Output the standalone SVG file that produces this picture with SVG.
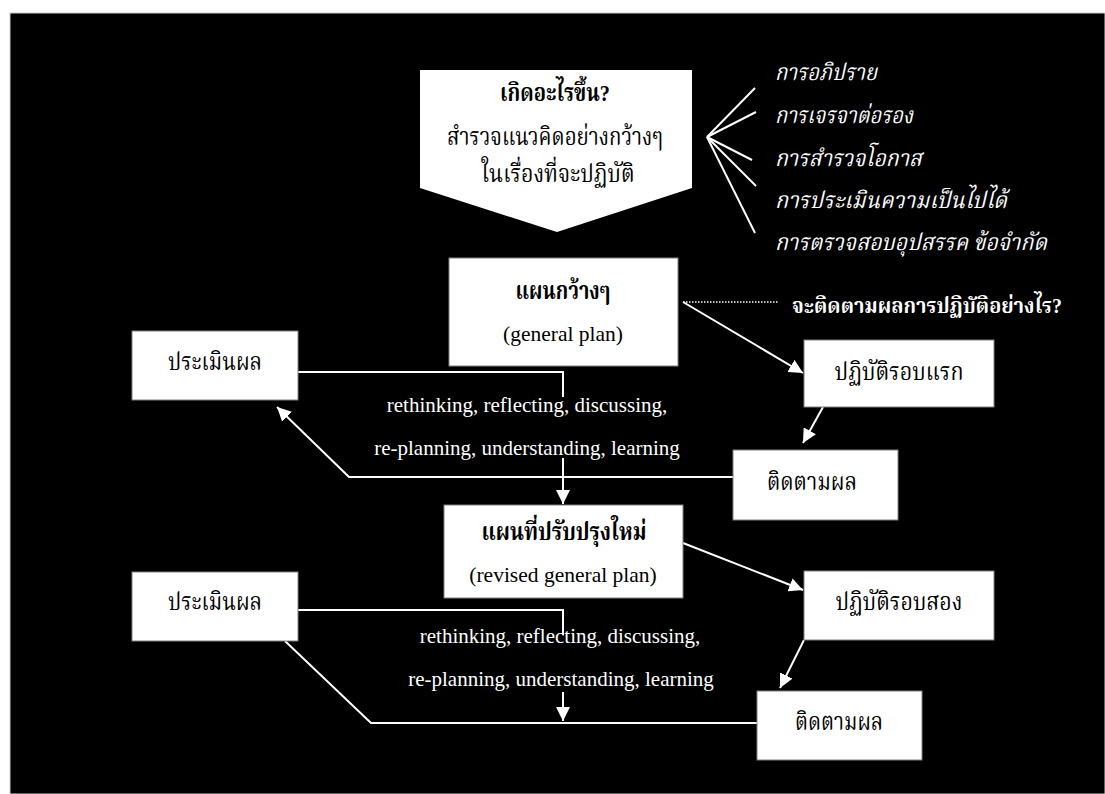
<svg xmlns="http://www.w3.org/2000/svg" width="1105" height="794" viewBox="0 0 1105 794">
<defs>
<marker id="ah" viewBox="0 0 10 10" refX="10" refY="5" markerWidth="14" markerHeight="14" markerUnits="userSpaceOnUse" orient="auto">
<path d="M0,0 L10,5 L0,10 z" fill="#fff"/>
</marker>
<style>
.box{fill:#fff;stroke:#808080;stroke-width:1}
.th{font-family:"Liberation Serif","Noto Serif Thai","Noto Sans Thai",serif;font-size:24px;fill:#000;text-anchor:middle}
.b{font-weight:bold}
.en{font-family:"Liberation Serif",serif;font-size:21.5px;text-anchor:middle}
.wen{font-family:"Liberation Serif",serif;font-size:21px;fill:#fff;text-anchor:middle}
.it{font-family:"Liberation Serif","Noto Serif Thai","Noto Sans Thai",serif;font-size:23px;fill:#fff;font-style:italic}
.q{font-family:"Liberation Serif","Noto Serif Thai","Noto Sans Thai",serif;font-size:22px;fill:#fff;font-weight:bold}
.ln{stroke:#fff;stroke-width:2;fill:none}
</style>
</defs>
<rect x="0" y="0" width="1105" height="794" fill="#fff"/>
<rect x="10" y="13" width="1095" height="781" fill="#000" stroke="#ccc" stroke-width="1"/>

<g id="connectors">
<polyline class="ln" points="707,137 755,88"/>
<polyline class="ln" points="707,137 756,112"/>
<polyline class="ln" points="707,137 752,160"/>
<polyline class="ln" points="707,137 756,186"/>
<polyline class="ln" points="707,137 755,233"/>
<line x1="683" y1="302" x2="778" y2="302" stroke="#fff" stroke-width="1.5" stroke-dasharray="1.5,1.5"/>
<line class="ln" x1="683" y1="302" x2="803" y2="373" marker-end="url(#ah)"/>
<line class="ln" x1="823" y1="407" x2="803" y2="443" marker-end="url(#ah)"/>
<polyline class="ln" points="298,372 563,372 563,397"/>
<line class="ln" x1="563" y1="458" x2="563" y2="504" marker-end="url(#ah)"/>
<polyline class="ln" points="733,477 349,477 277,407" marker-end="url(#ah)"/>
<line class="ln" x1="683" y1="543" x2="803" y2="590" marker-end="url(#ah)"/>
<line class="ln" x1="804" y1="640" x2="780" y2="688" marker-end="url(#ah)"/>
<polyline class="ln" points="298,610 563,610 563,635"/>
<line class="ln" x1="563" y1="692" x2="563" y2="721" marker-end="url(#ah)"/>
<polyline class="ln" points="757,723 371,723 285,641"/>
</g>

<g id="what-happened">
<polygon points="420,70 692,70 692,188 557,232 420,188" fill="#fff"/>
<text class="th b" x="555" y="101" textLength="110" lengthAdjust="spacingAndGlyphs">เกิดอะไรขึ้น?</text>
<text class="th" x="555" y="145" textLength="216" lengthAdjust="spacingAndGlyphs">สำรวจแนวคิดอย่างกว้างๆ</text>
<text class="th" x="558" y="182" textLength="153" lengthAdjust="spacingAndGlyphs">ในเรื่องที่จะปฏิบัติ</text>
</g>

<g id="activities">
<text class="it" x="775" y="80" textLength="102" lengthAdjust="spacingAndGlyphs">การอภิปราย</text>
<text class="it" x="775" y="123" textLength="138" lengthAdjust="spacingAndGlyphs">การเจรจาต่อรอง</text>
<text class="it" x="775" y="166" textLength="147" lengthAdjust="spacingAndGlyphs">การสำรวจโอกาส</text>
<text class="it" x="775" y="208" textLength="232" lengthAdjust="spacingAndGlyphs">การประเมินความเป็นไปได้</text>
<text class="it" x="775" y="250" textLength="272" lengthAdjust="spacingAndGlyphs">การตรวจสอบอุปสรรค ข้อจำกัด</text>
</g>

<g id="monitor-question">
<text class="q" x="792" y="313" textLength="270" lengthAdjust="spacingAndGlyphs">จะติดตามผลการปฏิบัติอย่างไร?</text>
</g>

<g id="general-plan">
<rect class="box" x="449" y="258" width="229" height="108"/>
<text class="th b" x="563" y="299" textLength="95" lengthAdjust="spacingAndGlyphs">แผนกว้างๆ</text>
<text class="en" x="563" y="341">(general plan)</text>
</g>

<g id="act1">
<rect class="box" x="804" y="340" width="190" height="67"/>
<text class="th" x="899" y="380" textLength="129" lengthAdjust="spacingAndGlyphs">ปฏิบัติรอบแรก</text>
</g>

<g id="monitor1">
<rect class="box" x="733" y="450" width="165" height="70"/>
<text class="th" x="812" y="490" textLength="90" lengthAdjust="spacingAndGlyphs">ติดตามผล</text>
</g>

<g id="evaluate1">
<rect class="box" x="132" y="331" width="166" height="69"/>
<text class="th" x="215" y="370" textLength="94" lengthAdjust="spacingAndGlyphs">ประเมินผล</text>
</g>

<g id="reflect1">
<text class="wen" x="527" y="412">rethinking, reflecting, discussing,</text>
<text class="wen" x="527" y="455">re-planning, understanding, learning</text>
</g>

<g id="revised-plan">
<rect class="box" x="444" y="505" width="239" height="93"/>
<text class="th b" x="564" y="540" textLength="165" lengthAdjust="spacingAndGlyphs">แผนที่ปรับปรุงใหม่</text>
<text class="en" x="563" y="582">(revised general plan)</text>
</g>

<g id="act2">
<rect class="box" x="804" y="571" width="190" height="69"/>
<text class="th" x="899" y="610" textLength="127" lengthAdjust="spacingAndGlyphs">ปฏิบัติรอบสอง</text>
</g>

<g id="monitor2">
<rect class="box" x="757" y="691" width="165" height="69"/>
<text class="th" x="839" y="730" textLength="88" lengthAdjust="spacingAndGlyphs">ติดตามผล</text>
</g>

<g id="evaluate2">
<rect class="box" x="132" y="572" width="166" height="69"/>
<text class="th" x="215" y="610" textLength="94" lengthAdjust="spacingAndGlyphs">ประเมินผล</text>
</g>

<g id="reflect2">
<text class="wen" x="560" y="643">rethinking, reflecting, discussing,</text>
<text class="wen" x="561" y="686">re-planning, understanding, learning</text>
</g>
</svg>
